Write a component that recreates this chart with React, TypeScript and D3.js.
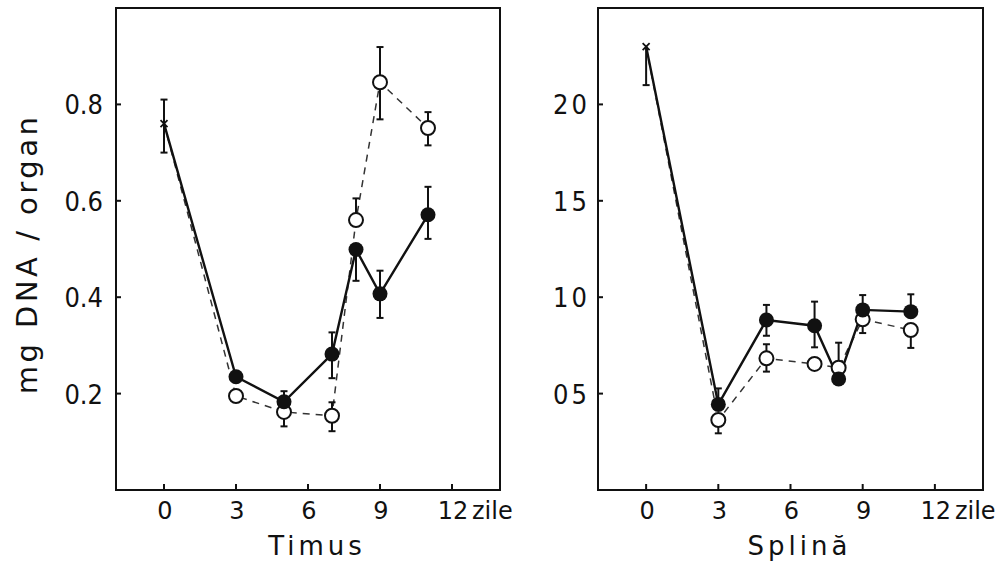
import React from 'react';
import * as d3 from 'd3';

const days = [0, 3, 5, 7, 8, 9, 11];
const xTickValues = [0, 3, 6, 9, 12];
const xTickLabels = ['0', '3', '6', '9', '12'];
const xUnit = 'zile';

// Timus (thymus)
const thymusFilled = [0.76, 0.235, 0.183, 0.282, 0.499, 0.407, 0.571];
const thymusFilledErrUp = [0.05, 0, 0.022, 0.045, 0, 0.048, 0.058];
const thymusFilledErrDown = [0.06, 0, 0, 0.05, 0.065, 0.05, 0.05];
const thymusOpen = [0.76, 0.195, 0.162, 0.154, 0.56, 0.846, 0.751];
const thymusOpenErrUp = [0, 0, 0, 0.028, 0.045, 0.073, 0.033];
const thymusOpenErrDown = [0, 0, 0.03, 0.032, 0, 0.077, 0.036];
const thymusYTicks = [0.2, 0.4, 0.6, 0.8];
const thymusYLabels = ['0.2', '0.4', '0.6', '0.8'];

// Splina (spleen)
const spleenFilled = [2.3, 0.444, 0.882, 0.852, 0.576, 0.934, 0.925];
const spleenFilledErrUp = [0, 0.083, 0.078, 0.125, 0, 0.077, 0.09];
const spleenFilledErrDown = [0.2, 0, 0.082, 0.112, 0, 0, 0];
const spleenOpen = [2.3, 0.363, 0.683, 0.654, 0.634, 0.885, 0.83];
const spleenOpenErrUp = [0, 0, 0.073, 0, 0.13, 0, 0];
const spleenOpenErrDown = [0, 0.069, 0.069, 0, 0, 0.071, 0.093];
const spleenYTicks = [0.5, 1.0, 1.5, 2.0];
const spleenYLabels = ['05', '10', '15', '20'];

const yTitle = 'mg DNA / organ';

const FONT = '"DejaVu Sans", sans-serif';
const FONT_C = '"DejaVu Sans Condensed", "DejaVu Sans", sans-serif';

type PanelProps = {
  left: number;
  right: number;
  top: number;
  bottom: number;
  yMax: number;
  filled: number[];
  filledUp: number[];
  filledDown: number[];
  open: number[];
  openUp: number[];
  openDown: number[];
  yTicks: number[];
  yLabels: string[];
  yLabelGap: number;
  yLabelSpacing: number;
  title: string;
};

function Panel(p: PanelProps) {
  const x = d3.scaleLinear().domain([-2, 14]).range([p.left, p.right]);
  const y = d3.scaleLinear().domain([0, p.yMax]).range([p.bottom, p.top]);
  const line = d3
    .line<number>()
    .x((_, i) => x(days[i]))
    .y((d) => y(d));

  const errBars = (vals: number[], up: number[], down: number[], key: string) =>
    vals.map((v, i) => {
      const cx = x(days[i]);
      const y1 = y(v + up[i]);
      const y2 = y(v - down[i]);
      const parts = [] as React.ReactNode[];
      if (up[i] > 0 || down[i] > 0) {
        parts.push(<line key="v" x1={cx} x2={cx} y1={y1} y2={y2} stroke="#111" strokeWidth={2} />);
      }
      if (up[i] > 0) parts.push(<line key="u" x1={cx - 3.5} x2={cx + 3.5} y1={y1} y2={y1} stroke="#111" strokeWidth={2} />);
      if (down[i] > 0) parts.push(<line key="d" x1={cx - 3.5} x2={cx + 3.5} y1={y2} y2={y2} stroke="#111" strokeWidth={2} />);
      return <g key={key + i}>{parts}</g>;
    });

  const cx0 = x(days[0]);
  const cy0 = y(p.filled[0]);

  return (
    <g>
      <rect x={p.left} y={p.top} width={p.right - p.left} height={p.bottom - p.top} fill="none" stroke="#111" strokeWidth={2} />
      {xTickValues.map((t, i) => (
        <g key={'xt' + i}>
          <line x1={x(t)} x2={x(t)} y1={p.bottom} y2={p.bottom - 6} stroke="#111" strokeWidth={2} />
          <text x={x(t) + 1} y={519} textAnchor="middle" fontFamily={FONT} fontSize={24} fill="#111">
            {xTickLabels[i]}
          </text>
        </g>
      ))}
      <text x={x(12) + 20} y={519} textAnchor="start" fontFamily={FONT} fontSize={24} fill="#111">
        {xUnit}
      </text>
      {p.yTicks.map((t, i) => (
        <g key={'yt' + i}>
          <line x1={p.left} x2={p.left + 5} y1={y(t)} y2={y(t)} stroke="#111" strokeWidth={2} />
          <text
            x={p.left - p.yLabelGap}
            y={y(t) + 10}
            textAnchor="end"
            fontFamily={FONT_C}
            fontSize={27}
            letterSpacing={p.yLabelSpacing}
            fill="#111"
          >
            {p.yLabels[i]}
          </text>
        </g>
      ))}
      <text x={(p.left + p.right) / 2 + 9} y={555} textAnchor="middle" fontFamily={FONT} fontSize={26} letterSpacing={4} fill="#111">
        {p.title}
      </text>
      <path d={line(p.open) || ''} fill="none" stroke="#333" strokeWidth={1.5} strokeDasharray="7,6" />
      <path d={line(p.filled) || ''} fill="none" stroke="#111" strokeWidth={2.4} />
      {errBars(p.filled, p.filledUp, p.filledDown, 'fe')}
      {errBars(p.open, p.openUp, p.openDown, 'oe')}
      <g>
        <line x1={cx0 - 3.5} x2={cx0 + 3.5} y1={cy0 - 3.5} y2={cy0 + 3.5} stroke="#111" strokeWidth={1.8} />
        <line x1={cx0 - 3.5} x2={cx0 + 3.5} y1={cy0 + 3.5} y2={cy0 - 3.5} stroke="#111" strokeWidth={1.8} />
      </g>
      {p.open.map((v, i) =>
        i === 0 ? null : (
          <circle key={'oc' + i} cx={x(days[i])} cy={y(v)} r={7} fill="#fff" stroke="#111" strokeWidth={2} />
        )
      )}
      {p.filled.map((v, i) =>
        i === 0 ? null : <circle key={'fc' + i} cx={x(days[i])} cy={y(v)} r={7.5} fill="#111" />
      )}
    </g>
  );
}

export default function App() {
  return (
    <svg
      width={1005}
      height={565}
      viewBox="0 0 1005 565"
      style={{ position: 'absolute', left: 0, top: 0, background: '#fff' }}
    >
      <rect x={0} y={0} width={1005} height={565} fill="#fff" />
      <text
        transform="translate(37,254) rotate(-90)"
        textAnchor="middle"
        fontFamily={FONT}
        fontSize={29}
        letterSpacing={3.5}
        fill="#111"
      >
        {yTitle}
      </text>
      <Panel
        left={116}
        right={500}
        top={8}
        bottom={490}
        yMax={1.0}
        filled={thymusFilled}
        filledUp={thymusFilledErrUp}
        filledDown={thymusFilledErrDown}
        open={thymusOpen}
        openUp={thymusOpenErrUp}
        openDown={thymusOpenErrDown}
        yTicks={thymusYTicks}
        yLabels={thymusYLabels}
        yLabelGap={13}
        yLabelSpacing={0}
        title="Timus"
      />
      <Panel
        left={598}
        right={983}
        top={8}
        bottom={490}
        yMax={2.5}
        filled={spleenFilled}
        filledUp={spleenFilledErrUp}
        filledDown={spleenFilledErrDown}
        open={spleenOpen}
        openUp={spleenOpenErrUp}
        openDown={spleenOpenErrDown}
        yTicks={spleenYTicks}
        yLabels={spleenYLabels}
        yLabelGap={8}
        yLabelSpacing={3}
        title="Splină"
      />
    </svg>
  );
}
